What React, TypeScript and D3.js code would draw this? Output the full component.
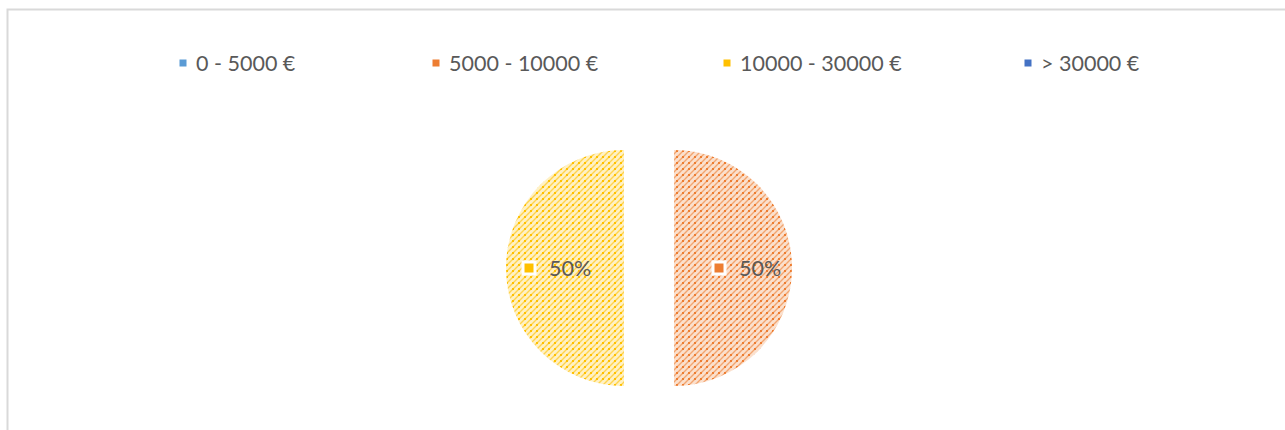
import React from "react";
import * as d3 from "d3";

const categories = ["0 - 5000 €", "5000 - 10000 €", "10000 - 30000 €", "> 30000 €"];
const values = [0, 1, 1, 0];
const colors = ["#5B9BD5", "#ED7D31", "#FFC000", "#4472C4"];
const tints = ["#e4eef8", "#fbe0cd", "#fff1c4", "#dbe3f3"];
const legendX = [183, 436, 727, 1028];

const W = 1285;
const H = 430;
const cx = 649;
const cy = 268;
const R = 118;
const explode = 25;

export default function App() {
  const pie = d3.pie<number>().sort(null).startAngle(0).endAngle(2 * Math.PI);
  const arcs = pie(values);
  const arcGen = d3.arc<d3.PieArcDatum<number>>().innerRadius(0).outerRadius(R);
  const labelArc = d3.arc<d3.PieArcDatum<number>>().innerRadius(70).outerRadius(70);
  const total = d3.sum(values);
  const fmt = d3.format(".0%");

  return (
    <svg width={W} height={H} style={{ position: "absolute", left: 0, top: 0, fontFamily: "Lato, 'Open Sans', sans-serif" }}>
      <defs>
        {colors.map((c, i) => (
          <pattern key={i} id={`pat${i}`} patternUnits="userSpaceOnUse" width={6} height={6}>
            <rect width={6} height={6} fill={tints[i]} />
            <path d="M-1,7 L7,-1 M-4,4 L4,-4 M2,10 L10,2" stroke={c} strokeWidth={1.4} opacity={0.6} />
            <rect x={2} y={2} width={2} height={2} fill={c} />
          </pattern>
        ))}
      </defs>
      <rect x={0} y={0} width={W} height={H} fill="#fff" />
      <path d={`M7.5,${H + 5} V9.5 H${W + 5}`} fill="none" stroke="#d9d9d9" strokeWidth={2} />
      {categories.map((c, i) => (
        <g key={c} transform={`translate(${legendX[i]},63)`}>
          <rect x={-3.5} y={-3.5} width={7} height={7} fill={colors[i]} />
          <text x={13} y={0} dy="0.35em" fontSize={21.5} fill="#595959">{c}</text>
        </g>
      ))}
      {arcs.map((a, i) => {
        if (a.value === 0) return null;
        const mid = (a.startAngle + a.endAngle) / 2;
        const dx = Math.sin(mid) * explode;
        const dy = -Math.cos(mid) * explode;
        return (
          <g key={i} transform={`translate(${cx + dx},${cy + dy})`}>
            <path d={arcGen(a) || ""} fill={`url(#pat${i})`} />
          </g>
        );
      })}
      {arcs.map((a, i) => {
        if (a.value === 0) return null;
        const mid = (a.startAngle + a.endAngle) / 2;
        const dx = Math.sin(mid) * explode;
        const dy = -Math.cos(mid) * explode;
        const [lx, ly] = labelArc.centroid(a);
        return (
          <g key={"l" + i} transform={`translate(${cx + dx + lx},${cy + dy + ly})`}>
            <rect x={-31} y={-6} width={12} height={12} fill={colors[i]} stroke="#fff" strokeWidth={3} />
            <text x={-5} y={0} dy="0.35em" fontSize={21.5} fill="#595959">{fmt(a.value / total)}</text>
          </g>
        );
      })}
    </svg>
  );
}
